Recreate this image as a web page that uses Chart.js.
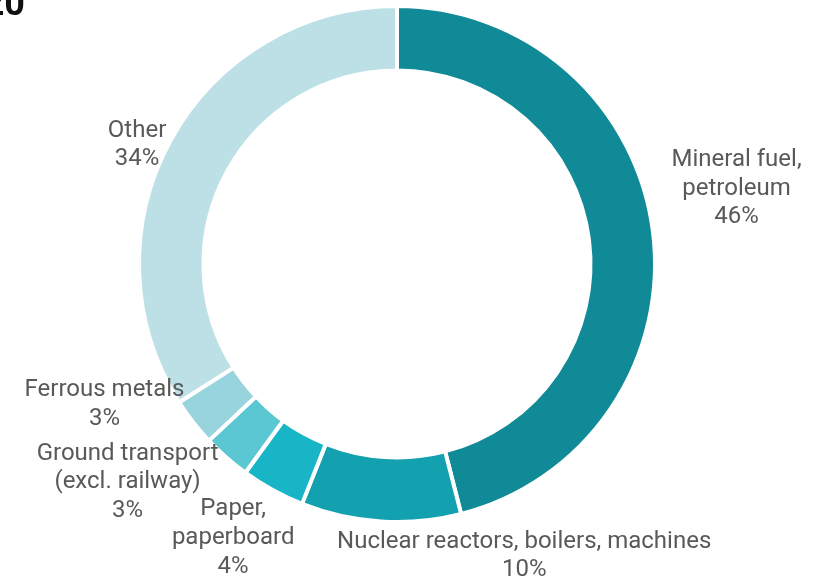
<!DOCTYPE html>
<html>
<head>
<meta charset="utf-8">
<script src="https://cdn.jsdelivr.net/npm/chart.js@4/dist/chart.umd.min.js"></script>
<style>
  html, body { margin: 0; padding: 0; background: #ffffff; overflow: hidden; }
  #wrap { position: relative; width: 816px; height: 578px; overflow: hidden; }
  #title { position: absolute; left: -202px; width: 227px; top: -15px; text-align: right;
           font: bold 36px Roboto, "Liberation Sans", sans-serif; line-height: 36px; color: #111; }
  canvas { position: absolute; left: 0; top: 0; }
</style>
</head>
<body>
<div id="wrap">
  <canvas id="c" width="816" height="578"></canvas>
  <div id="title">2020</div>
</div>
<script>
const categories = [
  ["Mineral fuel,", "petroleum"],
  ["Nuclear reactors, boilers, machines"],
  ["Paper,", "paperboard"],
  ["Ground transport", "(excl. railway)"],
  ["Ferrous metals"],
  ["Other"]
];
const shares = [46, 10, 4, 3, 3, 34];
const percentLabels = ["46%", "10%", "4%", "3%", "3%", "34%"];
const sliceColors = ["#108a96", "#13a1b0", "#17b5c5", "#5bc7d2", "#98d4dd", "#bde0e6"];
const labelNudges = [[21, -38], [155, 8], [-11, 12], [-40, -6], [-27, -34], [-10, 18]];

const outsideLabels = {
  id: 'outsideLabels',
  afterDatasetsDraw(chart) {
    const ctx = chart.ctx;
    const meta = chart.getDatasetMeta(0);
    const fontSize = 24, lh = 28.6;
    ctx.save();
    ctx.font = fontSize + 'px Roboto, "Liberation Sans", sans-serif';
    ctx.fillStyle = '#595959';
    ctx.textAlign = 'center';
    ctx.textBaseline = 'middle';
    meta.data.forEach((arc, i) => {
      const p = arc.getProps(['x', 'y', 'startAngle', 'endAngle', 'outerRadius'], true);
      const mid = (p.startAngle + p.endAngle) / 2;
      const r = p.outerRadius - 2;
      const ax = p.x + Math.cos(mid) * r;
      const ay = p.y + Math.sin(mid) * r;
      const lines = categories[i].concat([percentLabels[i]]);
      const w = Math.max(...lines.map(l => ctx.measureText(l).width));
      const h = lines.length * lh;
      const cx = ax + Math.cos(mid) * w / 2 + labelNudges[i][0];
      const cy = ay + Math.sin(mid) * h / 2 + labelNudges[i][1];
      lines.forEach((l, k) => {
        ctx.fillText(l, cx, cy - h / 2 + lh / 2 + k * lh);
      });
    });
    ctx.restore();
  }
};

new Chart(document.getElementById('c'), {
  type: 'doughnut',
  data: {
    labels: categories.map(c => c.join(' ')),
    datasets: [{
      data: shares,
      backgroundColor: sliceColors,
      borderColor: '#ffffff',
      borderWidth: 4,
      hoverOffset: 0
    }]
  },
  options: {
    responsive: false,
    animation: false,
    cutout: '75%',
    layout: { padding: { top: 4, bottom: 54, left: 0, right: 22 } },
    plugins: {
      legend: { display: false },
      tooltip: { enabled: false },
      title: { display: false }
    }
  },
  plugins: [outsideLabels]
});
</script>
</body>
</html>
